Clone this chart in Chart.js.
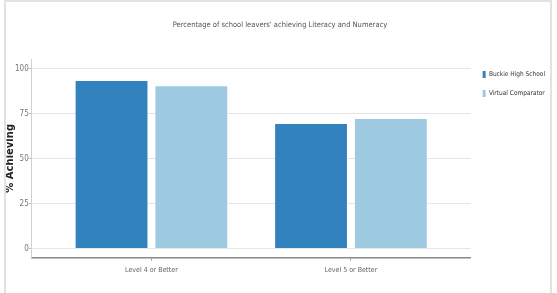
<!DOCTYPE html>
<html>
<head>
<meta charset="utf-8">
<script src="https://cdn.jsdelivr.net/npm/chart.js@4.4.1/dist/chart.umd.min.js"></script>
<style>
  html, body { margin: 0; padding: 0; background: #fff; }
  #wrap { position: relative; width: 557px; height: 293px; overflow: hidden; }
  #frame { position: absolute; left: 4px; top: 0; width: 544px; height: 300px; border: 2px solid #e2e2e2; pointer-events: none; }
</style>
</head>
<body>
<div id="wrap">
  <canvas id="chart" width="557" height="293"></canvas>
  <div id="frame"></div>
</div>
<script>
const categories = ["Level 4 or Better", "Level 5 or Better"];
const seriesNames = ["Buckie High School", "Virtual Comparator"];
const buckieValues = [93.3, 69.3];
const comparatorValues = [90.4, 72.1];
const yTicks = [0, 25, 50, 75, 100];
const chartTitle = "Percentage of school leavers' achieving Literacy and Numeracy";
const yTitle = "% Achieving";

const narrow = "'Liberation Sans Narrow', 'DejaVu Sans Condensed', sans-serif";

const ctx = document.getElementById("chart").getContext("2d");
new Chart(ctx, {
  type: "bar",
  data: {
    labels: categories,
    datasets: [
      {
        label: seriesNames[0],
        data: buckieValues,
        backgroundColor: "#3182bd",
        borderWidth: 0,
      },
      {
        label: seriesNames[1],
        data: comparatorValues,
        backgroundColor: "#9ecae1",
        borderWidth: 0,
      },
    ],
  },
  options: {
    responsive: false,
    animation: false,
    datasets: {
      bar: { categoryPercentage: 0.8, barPercentage: 0.9 },
    },
    layout: { padding: { left: 5, right: 2, top: 0, bottom: 14 } },
    plugins: {
      tooltip: { enabled: false },
      title: {
        display: true,
        text: chartTitle,
        color: "#555",
        font: { family: narrow, size: 7.5, weight: "normal" },
        padding: { top: 21, bottom: 29 },
      },
      legend: {
        position: "right",
        align: "start",
        fullSize: false,
        labels: {
          boxWidth: 3,
          boxHeight: 7,
          padding: 12,
          color: "#333",
          font: { family: narrow, size: 6.5 },
        },
      },
    },
    scales: {
      x: {
        // outer padding on both sides of the two groups
        afterBuildTicks: (scale) => {
          scale._startValue = -0.6;
          scale._valueRange = 2.2;
        },
        grid: {
          drawOnChartArea: false,
          offset: false,
          tickLength: 3,
          tickColor: "#999",
        },
        border: { color: "#888", width: 1.5 },
        ticks: { color: "#666", font: { family: narrow, size: 7 }, padding: 5 },
      },
      y: {
        min: -5,
        max: 105.5,
        afterBuildTicks: (scale) => {
          scale.ticks = yTicks.map((v) => ({ value: v }));
        },
        grid: { color: "#e6e6e6", tickLength: 3, tickColor: "#bbb" },
        border: { color: "#d0d0d0" },
        ticks: { color: "#777", font: { family: narrow, size: 8 }, padding: 0 },
        title: {
          display: true,
          text: yTitle,
          color: "#222",
          font: { family: "'DejaVu Sans', sans-serif", size: 10, weight: "bold", lineHeight: 1 },
          padding: 0,
        },
      },
    },
  },
});
</script>
</body>
</html>
